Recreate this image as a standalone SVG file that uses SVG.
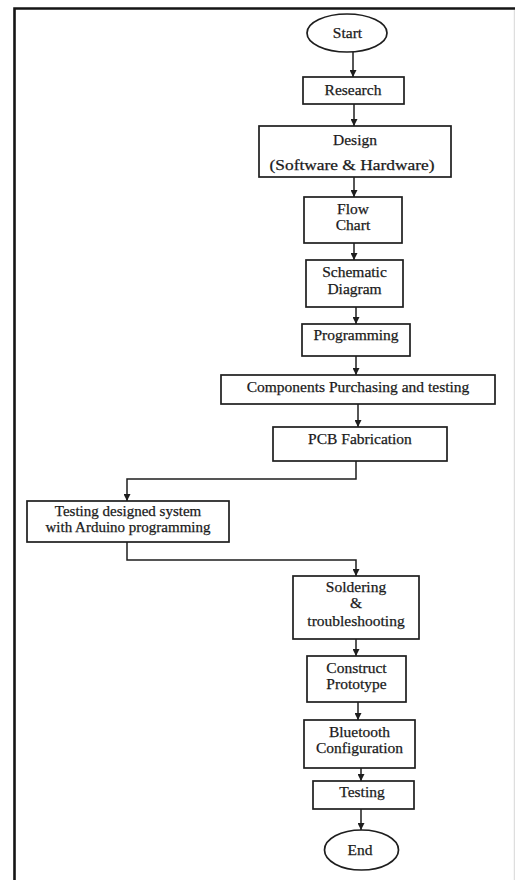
<svg xmlns="http://www.w3.org/2000/svg" width="515" height="880" viewBox="0 0 515 880">
<style>
.box{fill:#fff;stroke:#1e1e1e;stroke-width:1.7}
.t{font-family:"Liberation Serif","Times New Roman",serif;font-size:15.5px;fill:#1a1a1a;stroke:#1a1a1a;stroke-width:0.25;text-anchor:middle}
.s{font-size:15px}
.c{fill:none;stroke:#1e1e1e;stroke-width:1.5}
</style>
<defs>
<marker id="ah" markerUnits="userSpaceOnUse" markerWidth="7" markerHeight="7" refX="7" refY="3.5" orient="auto" viewBox="0 0 7 7">
<path d="M0,0 L7,3.5 L0,7 Z" fill="#1e1e1e"/>
</marker>
</defs>
<rect width="515" height="880" fill="#fff"/>
<g id="frame">
<path d="M14.5,880 V8.5 H515" fill="none" stroke="#151515" stroke-width="2.6"/>
<line x1="514.3" y1="10" x2="514.3" y2="880" stroke="#d6d6d6" stroke-width="1"/>
</g>
<g id="connectors">
<path class="c" d="M353,52 V77" marker-end="url(#ah)"/>
<path class="c" d="M354,104 V126" marker-end="url(#ah)"/>
<path class="c" d="M354,177 V197" marker-end="url(#ah)"/>
<path class="c" d="M354,243 V260" marker-end="url(#ah)"/>
<path class="c" d="M356,307 V324" marker-end="url(#ah)"/>
<path class="c" d="M356,356 V375" marker-end="url(#ah)"/>
<path class="c" d="M358,404 V427" marker-end="url(#ah)"/>
<path class="c" d="M356,461 V479 H127 V501" marker-end="url(#ah)"/>
<path class="c" d="M127,542 V560 H356 V576" marker-end="url(#ah)"/>
<path class="c" d="M356,639 V656" marker-end="url(#ah)"/>
<path class="c" d="M358,702 V720" marker-end="url(#ah)"/>
<path class="c" d="M361,768 V781" marker-end="url(#ah)"/>
<path class="c" d="M361,809 V830" marker-end="url(#ah)"/>
</g>
<g id="start">
<ellipse class="box" cx="347" cy="33" rx="40" ry="19"/>
<text class="t" x="347.5" y="38">Start</text>
</g>
<g id="research">
<rect class="box" x="303" y="77" width="101" height="27"/>
<text class="t" x="353" y="95">Research</text>
</g>
<g id="design">
<rect class="box" x="259" y="126" width="192" height="51"/>
<text class="t" x="355" y="145">Design</text>
<text class="t" x="352" y="170" textLength="165" lengthAdjust="spacingAndGlyphs">(Software &amp; Hardware)</text>
</g>
<g id="flowchart">
<rect class="box" x="304" y="197" width="98" height="46"/>
<text class="t" x="353" y="214">Flow</text>
<text class="t" x="353" y="230">Chart</text>
</g>
<g id="schematic">
<rect class="box" x="306" y="260" width="97" height="47"/>
<text class="t" x="354.5" y="277">Schematic</text>
<text class="t" x="354.5" y="294">Diagram</text>
</g>
<g id="programming">
<rect class="box" x="302" y="324" width="108" height="32"/>
<text class="t" x="356" y="340">Programming</text>
</g>
<g id="components">
<rect class="box" x="221" y="375" width="274" height="29"/>
<text class="t" x="358" y="392">Components Purchasing and testing</text>
</g>
<g id="pcb">
<rect class="box" x="273" y="427" width="174" height="34"/>
<text class="t" x="360" y="444">PCB Fabrication</text>
</g>
<g id="testing-designed">
<rect class="box" x="27" y="501" width="202" height="41"/>
<text class="t s" x="128" y="516">Testing designed system</text>
<text class="t s" x="128" y="532">with Arduino programming</text>
</g>
<g id="soldering">
<rect class="box" x="293" y="576" width="126" height="63"/>
<text class="t" x="356" y="592">Soldering</text>
<text class="t" x="356" y="608">&amp;</text>
<text class="t" x="356" y="626">troubleshooting</text>
</g>
<g id="construct">
<rect class="box" x="307" y="656" width="99" height="46"/>
<text class="t" x="356.5" y="673">Construct</text>
<text class="t" x="356.5" y="689">Prototype</text>
</g>
<g id="bluetooth">
<rect class="box" x="304" y="720" width="111" height="48"/>
<text class="t" x="359.5" y="737">Bluetooth</text>
<text class="t" x="359.5" y="753">Configuration</text>
</g>
<g id="testing">
<rect class="box" x="313" y="781" width="101" height="28"/>
<text class="t" x="362" y="797">Testing</text>
</g>
<g id="end">
<ellipse class="box" cx="361.5" cy="850" rx="37" ry="20"/>
<text class="t" x="360" y="855">End</text>
</g>
</svg>
